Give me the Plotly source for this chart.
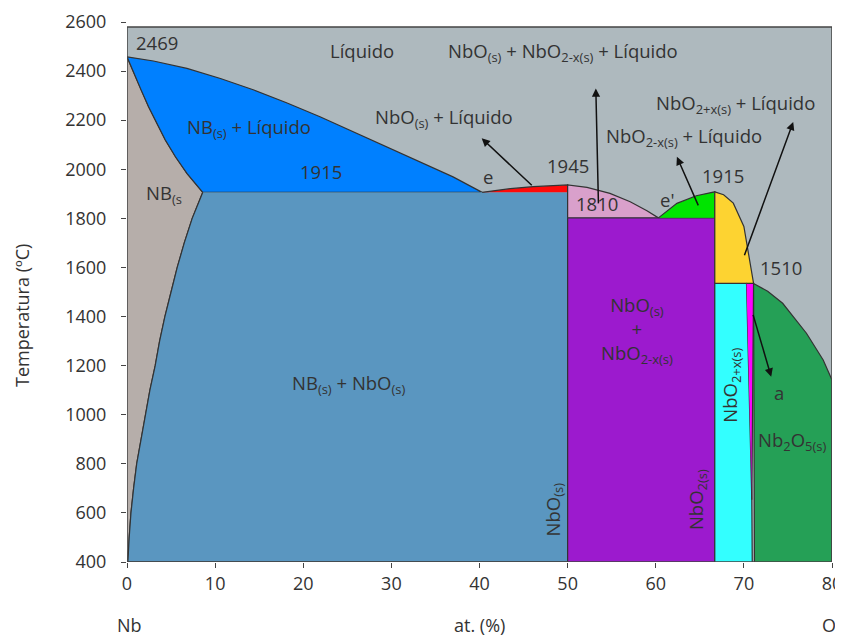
import plotly.graph_objects as go

# ---------------- data ----------------
x_ticks = [0, 10, 20, 30, 40, 50, 60, 70, 80]
y_ticks = [400, 600, 800, 1000, 1200, 1400, 1600, 1800, 2000, 2200, 2400, 2600]

X_LEFT, X_RIGHT = 0, 80
T_BOTTOM, T_TOP = 400, 2580
T_EUT = 1906      # line labelled 1915
T_MONO = 1802     # line labelled 1810
T_LOW = 1535      # line labelled 1510
X_NBO = 50.0
X_NBO2 = 66.7

# liquidus Nb side: 2469 -> eutectic e
liq_x = [0, 3.0, 6.8, 10.6, 14.4, 18.1, 21.9, 25.7, 29.5, 33.3, 37.0, 40.3]
liq_y = [2458, 2441, 2411, 2370, 2323, 2271, 2214, 2153, 2092, 2031, 1969, T_EUT]
# solidus of Nb(s)
sol_x = [0, 0.83, 1.6, 2.45, 3.4, 4.35, 5.5, 6.8, 8.6]
sol_y = [2458, 2391, 2323, 2255, 2187, 2119, 2051, 1983, T_EUT]
# solvus of Nb(s)
solv_x = [8.6, 8.0, 7.4, 6.5, 5.7, 5.0, 4.3, 3.7, 3.2, 2.6, 2.1, 1.6, 1.1, 0.75, 0.45, 0.25, 0.1]
solv_y = [T_EUT, 1850, 1800, 1700, 1600, 1500, 1400, 1300, 1200, 1100, 1000, 900, 800, 700, 600, 500, 400]
# NbO(s) + liquid (red)
red_x = [40.3, 43.5, 46.1, 50.0]
red_y = [T_EUT, 1921, 1929, 1936]
# liquidus over pink region
pink_x = [50.0, 52.2, 54.8, 57.1, 59.0, 60.3]
pink_y = [1936, 1926, 1902, 1868, 1831, T_MONO]
# NbO2-x + liquid (green)
grn_x = [60.3, 62.4, 64.6, 66.7]
grn_y = [T_MONO, 1861, 1892, 1908]
# NbO2+x + liquid (yellow)
yel_x = [66.7, 67.7, 68.8, 70.0, 70.5, 71.0, 71.1]
yel_y = [1908, 1896, 1862, 1767, 1659, 1543, T_LOW]
# NbO2+x(s) (cyan)
cyan_x = [66.7, 66.7, 70.3, 70.9, 70.95]
cyan_y = [400, T_LOW, T_LOW, 654, 400]
# narrow two-phase wedge (magenta)
mag_x = [70.3, 71.1, 71.0, 70.9]
mag_y = [T_LOW, T_LOW, 1100, 654]
# Nb2O5(s) liquidus
n2o5_x = [71.1, 72.7, 74.4, 77.1, 79.0, 80.0]
n2o5_y = [T_LOW, 1503, 1454, 1332, 1223, 1141]

# arrows: (tail x, tail y, head x, head y)
arrows = [
    (46.1, 1929, 40.25, 2126),
    (53.5, 1855, 53.2, 2329),
    (64.9, 1847, 62.4, 2051),
    (70.0, 1644, 75.6, 2193),
    (71.0, 1413, 73.1, 1155),
]

# ---------------- styles ----------------
C_LIQ = "#AEB9BE"
C_NB = "#B6AEAA"
C_BLUE = "#0080FF"
C_STEEL = "#5A96C0"
C_RED = "#FF0A0A"
C_PINK = "#D9A0CB"
C_PURPLE = "#9C1ACE"
C_GREEN = "#00E400"
C_YEL = "#FDD331"
C_CYAN = "#33FFFF"
C_MAG = "#FF00FF"
C_N2O5 = "#25A056"
EDGE = "#333333"
TXT = "#333333"
FONT = "Open Sans"
LBL = 18.5

fig = go.Figure()


def poly(xs, ys, color, edge=True):
    fig.add_trace(go.Scatter(
        x=xs, y=ys, mode="lines", fill="toself", fillcolor=color,
        line=dict(color=EDGE if edge else color, width=1.2 if edge else 0),
        hoverinfo="skip", showlegend=False))


# liquid background
poly([X_LEFT, X_RIGHT, X_RIGHT, X_LEFT], [T_BOTTOM, T_BOTTOM, T_TOP, T_TOP], C_LIQ, edge=False)
# Nb(s)
poly(sol_x + solv_x[1:] + [X_LEFT], sol_y + solv_y[1:] + [T_BOTTOM], C_NB)
# Nb(s) + liquid
poly(liq_x + sol_x[::-1], liq_y + sol_y[::-1], C_BLUE)
# Nb(s) + NbO(s)
poly(solv_x + [X_NBO, X_NBO], solv_y + [T_BOTTOM, T_EUT], C_STEEL)
# red
poly(red_x + [X_NBO], red_y + [T_EUT], C_RED)
# pink
poly([X_NBO] + pink_x, [T_MONO] + pink_y, C_PINK)
# purple
poly([X_NBO, X_NBO, X_NBO2, X_NBO2], [T_BOTTOM, T_MONO, T_MONO, T_BOTTOM], C_PURPLE)
# green
poly(grn_x + [X_NBO2], grn_y + [T_MONO], C_GREEN)
# yellow
poly([X_NBO2] + yel_x, [T_LOW] + yel_y, C_YEL)
# cyan
poly(cyan_x, cyan_y, C_CYAN)
# magenta
poly(mag_x, mag_y, C_MAG)
# Nb2O5
poly([71.2] + n2o5_x + [X_RIGHT], [T_BOTTOM] + n2o5_y + [T_BOTTOM], C_N2O5)

# frame
fig.add_shape(type="rect", x0=X_LEFT, x1=X_RIGHT, y0=T_BOTTOM, y1=T_TOP,
              xref="x", yref="y", line=dict(color="#444444", width=1.5),
              fillcolor="rgba(0,0,0,0)", layer="above")

ann = []


def label(x, y, text, size=LBL, angle=0):
    ann.append(dict(x=x, y=y, xref="x", yref="y", text=text, showarrow=False,
                    font=dict(family=FONT, size=size, color=TXT), textangle=angle,
                    xanchor="center", yanchor="middle"))


label(3.4, 2518, "2469")
label(26.7, 2485, "Líquido")
label(49.5, 2477, "NbO<sub>(s)</sub> + NbO<sub>2-x(s)</sub> + Líquido")
label(36.0, 2210, "NbO<sub>(s)</sub> + Líquido")
label(13.9, 2168, "NB<sub>(s)</sub> + Líquido")
label(22.0, 1989, "1915")
label(41.0, 1972, "e")
label(50.0, 2017, "1945")
label(53.3, 1862, "1810")
label(61.3, 1875, "e'")
label(67.6, 1976, "1915")
label(63.2, 2132, "NbO<sub>2-x(s)</sub> + Líquido")
label(69.0, 2266, "NbO<sub>2+x(s)</sub> + Líquido")
label(74.2, 1598, "1510")
label(4.2, 1900, "NB<sub>(s</sub>")
label(25.1, 1126, "NB<sub>(s)</sub> + NbO<sub>(s)</sub>")
label(57.9, 1345, "NbO<sub>(s)</sub><br>+<br>NbO<sub>2-x(s)</sub>")
label(48.4, 612, "NbO<sub>(s)</sub>", angle=-90)
label(64.7, 653, "NbO<sub>2(s)</sub>", angle=-90)
label(68.5, 1121, "NbO<sub>2+x(s)</sub>", angle=-90)
label(74.0, 1089, "a")
label(75.5, 893, "Nb<sub>2</sub>O<sub>5(s)</sub>")

for tx, ty, hx, hy in arrows:
    ann.append(dict(x=hx, y=hy, ax=tx, ay=ty, xref="x", yref="y", axref="x", ayref="y",
                    text="", showarrow=True, arrowhead=2, arrowsize=1.1,
                    arrowwidth=1.5, arrowcolor="#111111"))

# axis titles
ann.append(dict(x=-0.149, y=1406, xref="paper", yref="y", text="Temperatura (ºC)",
                showarrow=False, textangle=-90, xanchor="center", yanchor="middle",
                font=dict(family=FONT, size=18, color=TXT)))
for xv, t in [(0.3, "Nb"), (40, "at. (%)"), (79.7, "O")]:
    ann.append(dict(x=xv, y=-0.116, xref="x", yref="paper", text=t, showarrow=False,
                    xanchor="center", yanchor="middle",
                    font=dict(family=FONT, size=18, color=TXT)))

fig.update_layout(
    width=843, height=636,
    margin=dict(l=119, r=19, t=14, b=82),
    paper_bgcolor="white", plot_bgcolor="white",
    annotations=ann,
    font=dict(family=FONT, size=18, color=TXT),
    xaxis=dict(range=[X_LEFT, X_RIGHT], tickvals=x_ticks, ticks="outside", ticklen=5,
               tickcolor="#444444", showgrid=False, zeroline=False, showline=False,
               automargin=False,
               tickfont=dict(family=FONT, size=18, color=TXT)),
    yaxis=dict(range=[400, 2600], tickvals=y_ticks, ticks="outside", ticklen=5,
               tickcolor="#444444", showgrid=False, zeroline=False, showline=False,
               automargin=False,
               tickfont=dict(family=FONT, size=18, color=TXT), ticklabelstandoff=11),
)

fig.write_html("out.html")
